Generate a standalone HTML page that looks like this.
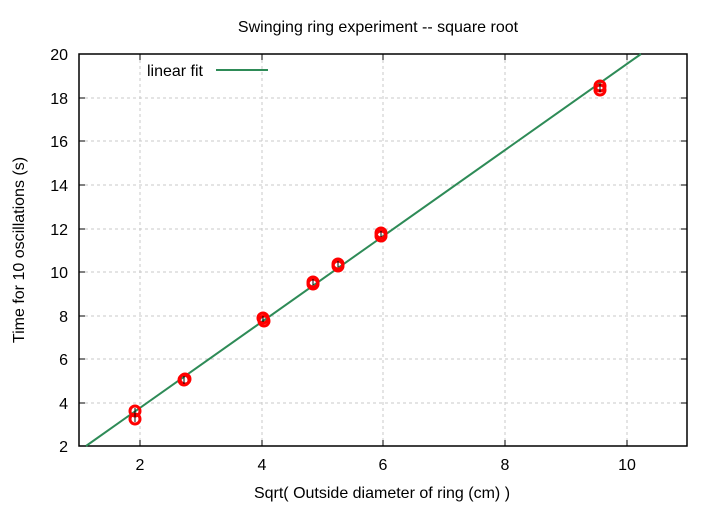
<!DOCTYPE html>
<html><head><meta charset="utf-8"><style>body{margin:0;background:#fff}</style></head><body>
<svg width="720" height="504" xmlns="http://www.w3.org/2000/svg" font-family="Liberation Sans, sans-serif" font-size="16">
<rect width="720" height="504" fill="#fff"/>
<g stroke="#c8c8c8" stroke-width="1" stroke-dasharray="3,3">
<line x1="140" y1="54" x2="140" y2="446"/><line x1="262" y1="54" x2="262" y2="446"/><line x1="383" y1="54" x2="383" y2="446"/><line x1="505" y1="54" x2="505" y2="446"/><line x1="627" y1="54" x2="627" y2="446"/>
<line x1="79" y1="403" x2="687" y2="403"/><line x1="79" y1="359" x2="687" y2="359"/><line x1="79" y1="316" x2="687" y2="316"/><line x1="79" y1="272" x2="687" y2="272"/><line x1="79" y1="229" x2="687" y2="229"/><line x1="79" y1="185" x2="687" y2="185"/><line x1="79" y1="141" x2="687" y2="141"/><line x1="79" y1="98" x2="687" y2="98"/>
</g>
<rect x="79" y="54" width="608" height="392" fill="none" stroke="#000" stroke-width="1.5"/>
<g stroke="#000" stroke-width="1">
<path d="M140 446v-6M262 446v-6M383 446v-6M505 446v-6M627 446v-6M140 54v6M262 54v6M383 54v6M505 54v6M627 54v6"/>
<path d="M79 403h6M79 359h6M79 316h6M79 272h6M79 229h6M79 185h6M79 141h6M79 98h6M687 403h-6M687 359h-6M687 316h-6M687 272h-6M687 229h-6M687 185h-6M687 141h-6M687 98h-6"/>
</g>
<g text-anchor="end">
<text x="68" y="452">2</text><text x="68" y="409">4</text><text x="68" y="365">6</text><text x="68" y="322">8</text><text x="68" y="278">10</text><text x="68" y="235">12</text><text x="68" y="191">14</text><text x="68" y="147">16</text><text x="68" y="104">18</text><text x="68" y="60">20</text>
</g>
<g text-anchor="middle">
<text x="140" y="470">2</text><text x="262" y="470">4</text><text x="383" y="470">6</text><text x="505" y="470">8</text><text x="627" y="470">10</text>
<text x="382" y="498">Sqrt( Outside diameter of ring (cm) )</text>
<text x="378" y="32">Swinging ring experiment -- square root</text>
<text transform="translate(24,250) rotate(-90)">Time for 10 oscillations (s)</text>
</g>
<line x1="86" y1="446" x2="641" y2="54" stroke="#2e8b57" stroke-width="2"/>
<text x="203" y="76" text-anchor="end">linear fit</text>
<line x1="216" y1="70" x2="268" y2="70" stroke="#2e8b57" stroke-width="2"/>
<g fill="none" stroke="#f00" stroke-width="3">
<circle cx="135" cy="411" r="5"/><circle cx="135" cy="419" r="5"/>
<circle cx="184" cy="380" r="5"/><circle cx="185" cy="379" r="5"/>
<circle cx="263" cy="318" r="5"/><circle cx="264" cy="321" r="5"/>
<circle cx="313" cy="282" r="5"/><circle cx="313" cy="284" r="5"/>
<circle cx="338" cy="264" r="5"/><circle cx="338" cy="266" r="5"/>
<circle cx="381" cy="233" r="5"/><circle cx="381" cy="236" r="5"/>
<circle cx="600" cy="86" r="5"/><circle cx="600" cy="90" r="5"/>
</g>
<g stroke="#000" stroke-width="1">
<path d="M135 408v14M184 376v8M263 316v6M313 279v6M338 261v6M381 231v6M600 84v8"/>
</g>
</svg>
</body></html>
